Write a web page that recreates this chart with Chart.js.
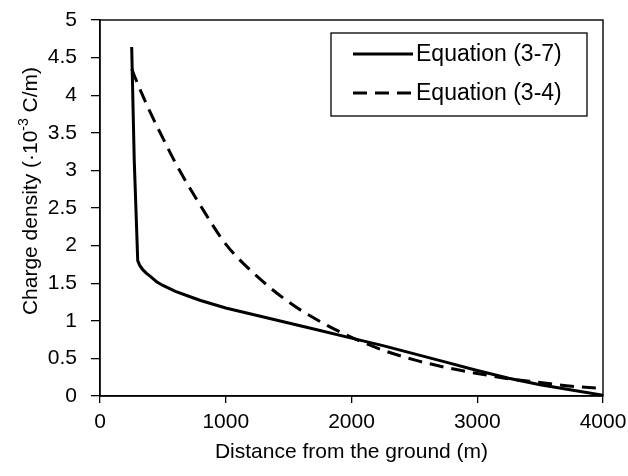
<!DOCTYPE html>
<html>
<head>
<meta charset="utf-8">
<script src="https://cdn.jsdelivr.net/npm/chart.js@4/dist/chart.umd.min.js"></script>
<style>
  html, body { margin: 0; padding: 0; background: #fff; }
  #wrap { width: 628px; height: 476px; }
</style>
</head>
<body>
<div id="wrap"><canvas id="chargeChart" width="628" height="476"></canvas></div>
<script>
// values
const eq37X = [252, 272, 300, 315, 340, 370, 400, 450, 500, 600, 700, 800, 1000, 1250, 1500, 1750, 2000, 2250, 2500, 2750, 3000, 3250, 3500, 3750, 4000];
const eq37Y = [4.64, 3.15, 1.80, 1.74, 1.68, 1.63, 1.59, 1.52, 1.47, 1.39, 1.33, 1.27, 1.17, 1.07, 0.97, 0.87, 0.77, 0.67, 0.56, 0.45, 0.34, 0.235, 0.15, 0.08, 0.01];

const eq34X = [252, 300, 400, 500, 600, 800, 1000, 1250, 1500, 1750, 2000, 2250, 2500, 2750, 3000, 3250, 3500, 3750, 4000];
const eq34Y = [4.35, 4.15, 3.77, 3.43, 3.10, 2.53, 2.02, 1.59, 1.25, 0.99, 0.78, 0.61, 0.48, 0.38, 0.30, 0.23, 0.18, 0.13, 0.10];

const seriesNames = ['Equation (3-7)', 'Equation (3-4)'];
const xTicks = [0, 1000, 2000, 3000, 4000];
const yTicks = [0, 0.5, 1, 1.5, 2, 2.5, 3, 3.5, 4, 4.5, 5];

const xTitle = 'Distance from the ground (m)';
const yTitleParts = ['Charge density (\u00b710', '-3', ' C/m)'];

const FONT = '"Liberation Sans", Arial, sans-serif';

function toPoints(xs, ys) {
    return xs.map((x, i) => ({ x: x, y: ys[i] }));
}

// box around the whole plot area
const framePlugin = {
    id: 'frame',
    afterDatasetsDraw(chart) {
        const a = chart.chartArea;
        const ctx = chart.ctx;
        ctx.save();
        ctx.strokeStyle = '#000';
        ctx.lineWidth = 1.4;
        ctx.strokeRect(a.left, a.top, a.right - a.left, a.bottom - a.top);
        ctx.restore();
    }
};

// legend box inside the plot, top right
const legendPlugin = {
    id: 'boxLegend',
    afterDraw(chart) {
        const ctx = chart.ctx;
        const bx = 331, by = 33, bw = 256, bh = 83;
        ctx.save();
        ctx.fillStyle = '#fff';
        ctx.fillRect(bx, by, bw, bh);
        ctx.strokeStyle = '#000';
        ctx.lineWidth = 1.3;
        ctx.strokeRect(bx, by, bw, bh);
        const rows = [54, 93];
        chart.data.datasets.forEach((ds, i) => {
            const y = rows[i];
            ctx.beginPath();
            ctx.setLineDash(ds.borderDash || []);
            ctx.lineWidth = ds.borderWidth;
            ctx.strokeStyle = ds.borderColor;
            ctx.moveTo(353, y);
            ctx.lineTo(413, y);
            ctx.stroke();
            ctx.setLineDash([]);
            ctx.fillStyle = '#000';
            ctx.font = '23px ' + FONT;
            ctx.textBaseline = 'middle';
            ctx.textAlign = 'left';
            ctx.fillText(ds.label, 416, y + 1);
        });
        ctx.restore();
    }
};

// rotated y title with a superscript exponent
const yTitlePlugin = {
    id: 'yTitle',
    afterDraw(chart) {
        const ctx = chart.ctx;
        const big = '21px ' + FONT;
        const small = '14px ' + FONT;
        ctx.save();
        ctx.font = big;
        const w0 = ctx.measureText(yTitleParts[0]).width;
        const w2 = ctx.measureText(yTitleParts[2]).width;
        ctx.font = small;
        const w1 = ctx.measureText(yTitleParts[1]).width;
        const total = w0 + w1 + w2;
        ctx.translate(31, 191);
        ctx.rotate(-Math.PI / 2);
        ctx.fillStyle = '#000';
        ctx.textBaseline = 'middle';
        ctx.textAlign = 'left';
        let x = -total / 2;
        ctx.font = big;
        ctx.fillText(yTitleParts[0], x, 0);
        x += w0;
        ctx.font = small;
        ctx.fillText(yTitleParts[1], x, -7);
        x += w1;
        ctx.font = big;
        ctx.fillText(yTitleParts[2], x, 0);
        ctx.restore();
    }
};

const ctx = document.getElementById('chargeChart').getContext('2d');
new Chart(ctx, {
    type: 'line',
    data: {
        datasets: [{
            label: seriesNames[0],
            data: toPoints(eq37X, eq37Y),
            borderColor: '#000',
            borderWidth: 3,
            pointRadius: 0,
            fill: false,
            tension: 0
        }, {
            label: seriesNames[1],
            data: toPoints(eq34X, eq34Y),
            borderColor: '#000',
            borderWidth: 3,
            borderDash: [14, 8],
            pointRadius: 0,
            fill: false,
            cubicInterpolationMode: 'monotone'
        }]
    },
    options: {
        responsive: false,
        animation: false,
        devicePixelRatio: 1,
        layout: { padding: { top: 20, right: 25, left: 0, bottom: 0 } },
        plugins: {
            legend: { display: false },
            tooltip: { enabled: false }
        },
        scales: {
            x: {
                type: 'linear',
                min: 0,
                max: 4000,
                afterFit(scale) {
                    scale.height = 80;
                    scale.paddingLeft = 0;
                    scale.paddingRight = 0;
                },
                afterBuildTicks(scale) { scale.ticks = xTicks.map(v => ({ value: v })); },
                ticks: {
                    color: '#000',
                    font: { family: FONT, size: 21 },
                    padding: 7,
                    maxRotation: 0,
                    callback: v => String(v)
                },
                grid: { drawOnChartArea: false, drawTicks: true, tickLength: 7, color: '#000', lineWidth: 1.3 },
                border: { display: true, color: '#000', width: 1.4 },
                title: {
                    display: true,
                    text: xTitle,
                    color: '#000',
                    font: { family: FONT, size: 21 },
                    padding: { top: 0, bottom: 11 }
                }
            },
            y: {
                type: 'linear',
                min: 0,
                max: 5,
                afterFit(scale) {
                    scale.width = 100;
                    scale.paddingTop = 0;
                    scale.paddingBottom = 0;
                },
                afterBuildTicks(scale) { scale.ticks = yTicks.map(v => ({ value: v })); },
                ticks: {
                    color: '#000',
                    font: { family: FONT, size: 21 },
                    padding: 14,
                    callback: v => String(v)
                },
                grid: { drawOnChartArea: false, drawTicks: true, tickLength: 9, color: '#000', lineWidth: 1.3 },
                border: { display: true, color: '#000', width: 1.4 }
            }
        }
    },
    plugins: [framePlugin, legendPlugin, yTitlePlugin]
});
</script>
</body>
</html>
